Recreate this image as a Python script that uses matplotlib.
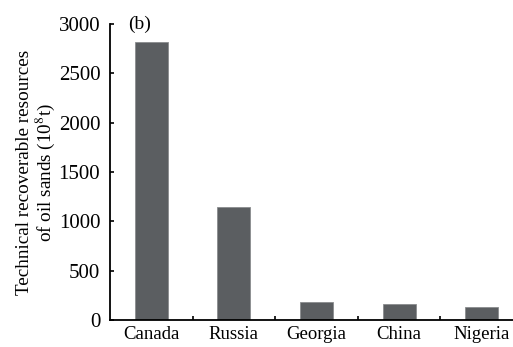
import matplotlib

matplotlib.use("Agg")
import matplotlib.pyplot as plt
import numpy as np

countries = ["Canada", "Russia", "Georgia", "China", "Nigeria"]
resources = [2820, 1150, 180, 165, 130]  # 10^8 t

plt.rcParams["font.family"] = ["Liberation Serif", "DejaVu Serif"]
plt.rcParams["mathtext.fontset"] = "stix"

fig = plt.figure(figsize=(5.13, 3.47), dpi=100)
ax = fig.add_axes([0.2144, 0.0778, 0.7856, 0.853])

x = np.arange(len(countries))
ax.bar(x, resources, width=0.4, color="#5b5e61", edgecolor="#8a8c8e", linewidth=0.6)

ax.set_xlim(-0.5, 4.38)
ax.set_ylim(0, 3000)
ax.set_yticks(np.arange(0, 3001, 500))
ax.set_xticks(x)
ax.set_xticklabels(countries)
ax.set_xticks(x[:-1] + 0.5, minor=True)

for side in ("top", "right"):
    ax.spines[side].set_visible(False)
for side in ("left", "bottom"):
    ax.spines[side].set_linewidth(1.3)

ax.tick_params(axis="y", direction="in", length=3, width=1.2, pad=7, labelsize=15)
ax.tick_params(axis="x", which="major", length=0, pad=4, labelsize=13.5)
ax.tick_params(axis="x", which="minor", direction="in", length=3, width=1.2)

ax.set_ylabel("Technical recoverable resources\nof oil sands (10$^8$t)", fontsize=13.8,
              labelpad=1, linespacing=1.05)
ax.text(0.045, 1.0, "(b)", transform=ax.transAxes, fontsize=14, va="center")

fig.savefig("out.png", dpi=100)
